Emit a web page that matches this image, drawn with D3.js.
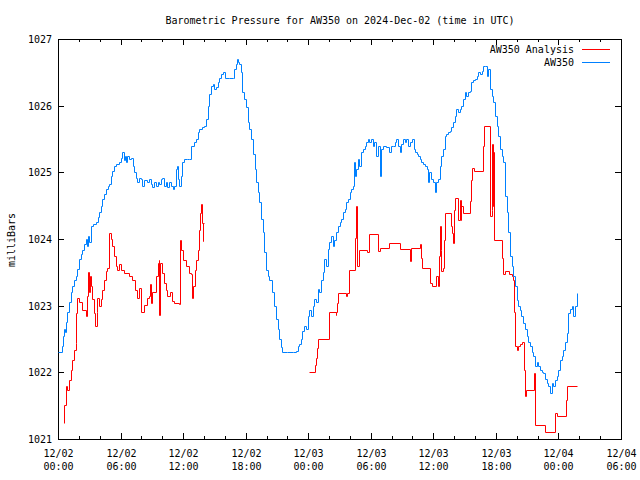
<!DOCTYPE html>
<html>
<head>
<meta charset="utf-8">
<script src="https://cdn.jsdelivr.net/npm/d3@7"></script>
<style>
  html, body { margin: 0; padding: 0; background: #fff; }
  svg { display: block; }
  text { font-family: "DejaVu Sans Mono", "Liberation Mono", monospace; font-size: 10px; fill: #000; }
</style>
</head>
<body>
<svg id="chart" width="640" height="480"></svg>
<script>
// ---- data (hours since 2024-12-02 00:00 UTC, pressure in mb) ----
const chartTitle = "Barometric Pressure for AW350 on 2024-Dec-02 (time in UTC)";
const yLabel = "milliBars";
const seriesNames = ["AW350 Analysis", "AW350"];
const yTicks = [1021, 1022, 1023, 1024, 1025, 1026, 1027];
const xMajorHours = [0, 6, 12, 18, 24, 30, 36, 42, 48, 54];
const xMinorHours = [2, 4, 8, 10, 14, 16, 20, 22, 26, 28, 32, 34, 38, 40, 44, 46, 50, 52];
const xTickLabels = [["12/02","00:00"],["12/02","06:00"],["12/02","12:00"],["12/02","18:00"],
                     ["12/03","00:00"],["12/03","06:00"],["12/03","12:00"],["12/03","18:00"],
                     ["12/04","00:00"],["12/04","06:00"]];

const blueHours = [0.00,0.38,0.50,0.58,0.70,0.77,0.90,1.06,1.20,1.32,1.50,1.70,1.85,2.02,2.20,2.33,2.50,2.66,2.79,2.85,2.98,
 3.14,3.40,3.62,3.80,3.94,4.10,4.23,4.40,4.58,4.75,4.90,5.06,5.20,5.38,5.60,5.86,6.00,6.18,6.30,6.40,6.53,6.65,6.82,
 7.00,7.15,7.30,7.45,7.62,7.80,7.95,8.10,8.26,8.50,8.74,8.90,9.03,9.20,9.39,9.55,9.71,9.85,9.99,10.15,10.35,10.50,
 10.67,10.85,11.00,11.15,11.31,11.40,11.50,11.63,11.75,11.92,12.11,12.40,12.60,12.75,13.00,13.23,13.40,13.55,13.80,
 14.03,14.19,14.35,14.51,14.70,14.83,15.00,15.15,15.30,15.47,15.60,15.79,16.05,16.40,16.75,16.91,17.05,17.13,17.25,
 17.39,17.56,17.65,17.85,18.04,18.19,18.35,18.52,18.67,18.85,19.00,19.15,19.31,19.48,19.63,19.79,19.96,20.10,20.27,
 20.50,20.76,20.95,21.10,21.24,21.40,21.52,22.00,22.50,22.87,23.00,23.16,23.30,23.45,23.64,23.80,23.95,24.12,24.30,
 24.45,24.60,24.75,24.90,25.05,25.24,25.40,25.56,25.70,25.85,26.04,26.20,26.35,26.52,26.70,26.84,27.00,27.16,27.30,
 27.48,27.65,27.80,27.96,28.10,28.28,28.35,28.50,28.61,28.76,28.90,29.09,29.25,29.40,29.55,29.72,29.85,30.00,30.20,
 30.35,30.53,30.68,30.84,31.01,31.20,31.49,31.70,31.90,32.12,32.30,32.45,32.60,32.77,32.90,33.08,33.25,33.41,33.55,
 33.73,33.99,34.10,34.21,34.40,34.52,34.70,34.85,35.00,35.17,35.35,35.49,35.58,35.75,35.97,36.13,36.30,36.45,36.61,
 36.77,36.93,37.09,37.25,37.41,37.57,37.73,37.90,38.05,38.21,38.40,38.55,38.70,38.85,39.01,39.18,39.35,39.49,39.66,
 39.80,39.97,40.15,40.29,40.45,40.62,40.77,40.93,41.10,41.25,41.41,41.58,41.73,41.89,42.06,42.21,42.38,42.55,42.69,
 42.86,43.02,43.17,43.34,43.50,43.65,43.82,43.98,44.15,44.30,44.45,44.62,44.78,44.94,45.10,45.26,45.42,45.58,45.74,
 45.90,46.06,46.22,46.38,46.54,46.70,46.86,47.02,47.18,47.34,47.50,47.66,47.82,47.98,48.14,48.30,48.46,48.62,48.79,
 48.95,49.10,49.27,49.43,49.58,49.75,49.80];
const bluePressure = [1022.30,1022.40,1022.55,1022.65,1022.60,1022.75,1022.90,1023.05,1023.20,1023.30,1023.38,1023.44,1023.55,1023.70,1023.78,1023.84,1023.92,1024.00,1023.90,1024.05,1023.95,
 1024.19,1024.22,1024.25,1024.33,1024.40,1024.50,1024.60,1024.68,1024.75,1024.80,1024.82,1024.94,1025.02,1025.10,1025.12,1025.15,1025.22,1025.30,1025.18,1025.25,1025.15,1025.25,1025.20,
 1025.22,1025.10,1025.00,1024.92,1024.85,1024.92,1024.90,1024.80,1024.88,1024.85,1024.90,1024.82,1024.78,1024.85,1024.80,1024.85,1024.83,1024.90,1024.92,1024.80,1024.85,1024.78,
 1024.85,1024.80,1024.75,1024.80,1025.05,1025.10,1024.90,1024.80,1024.95,1025.15,1025.20,1025.20,1025.20,1025.40,1025.45,1025.50,1025.60,1025.65,1025.68,
 1025.70,1025.80,1026.00,1026.17,1026.30,1026.32,1026.25,1026.28,1026.35,1026.42,1026.48,1026.50,1026.41,1026.41,1026.41,1026.55,1026.62,1026.70,1026.65,
 1026.62,1026.50,1026.20,1026.10,1025.98,1025.75,1025.65,1025.50,1025.28,1025.05,1024.85,1024.70,1024.55,1024.30,1024.10,1023.80,1023.54,1023.45,1023.39,
 1023.20,1023.00,1022.80,1022.65,1022.50,1022.38,1022.30,1022.30,1022.30,1022.32,1022.40,1022.42,1022.50,1022.62,1022.70,1022.65,1022.85,1022.94,1022.85,
 1023.00,1023.10,1023.05,1023.25,1023.20,1023.39,1023.50,1023.70,1023.60,1023.85,1023.95,1024.04,1023.90,1023.98,1024.10,1024.20,1024.25,1024.30,1024.40,
 1024.45,1024.55,1024.60,1024.70,1024.75,1024.80,1025.15,1024.95,1025.05,1025.20,1025.10,1025.30,1025.35,1025.40,1025.45,1025.50,1025.45,1025.50,1025.40,
 1025.45,1025.25,1025.40,1024.95,1025.35,1025.40,1025.38,1025.30,1025.40,1025.40,1025.45,1025.50,1025.40,1025.30,1025.42,1025.50,1025.45,1025.50,1025.40,
 1025.45,1025.50,1025.35,1025.30,1025.28,1025.25,1025.20,1025.15,1025.12,1025.10,1025.05,1024.85,1025.00,1024.90,1024.85,1024.70,1024.85,1024.90,1025.10,
 1025.25,1025.35,1025.55,1025.58,1025.60,1025.62,1025.68,1025.75,1025.85,1025.95,1025.90,1025.95,1026.00,1026.10,1026.20,1026.15,1026.20,1026.22,1026.35,
 1026.38,1026.40,1026.45,1026.50,1026.48,1026.52,1026.60,1026.60,1026.45,1026.55,1026.25,1026.15,1026.05,1025.85,1025.70,1025.55,1025.35,1025.25,1025.15,
 1024.64,1024.40,1024.10,1023.74,1023.60,1023.44,1023.30,1023.09,1023.00,1022.94,1022.85,1022.74,1022.65,1022.54,1022.45,1022.39,1022.30,1022.24,1022.09,
 1022.15,1022.10,1022.04,1022.00,1021.99,1021.90,1021.84,1021.80,1021.69,1021.84,1021.80,1021.89,1021.95,1022.04,1022.19,1022.25,1022.34,1022.45,1022.59,
 1022.89,1022.95,1022.99,1022.85,1022.99,1023.19,1023.19];

const redHours = [0.58,0.62,0.75,0.90,1.06,1.22,1.38,1.54,1.70,1.76,1.86,2.02,2.33,2.66,2.82,2.91,2.98,3.05,3.14,3.30,3.46,3.56,
 3.70,3.78,3.94,4.10,4.26,4.42,4.58,4.74,4.90,5.06,5.22,5.38,5.54,5.70,5.86,6.02,6.34,6.82,7.14,7.40,7.62,7.78,7.95,
 8.26,8.58,8.74,8.84,8.90,9.06,9.39,9.55,9.64,9.71,9.80,10.02,10.18,10.35,10.50,10.76,10.92,11.15,11.62,11.69,11.78,
 11.95,12.27,12.59,12.75,12.84,12.97,13.14,13.23,13.39,13.55,13.64,13.71,13.77,13.87,13.94,14.00,
 18.00,
 24.05,24.67,24.76,24.85,24.92,25.97,26.62,26.70,26.78,26.84,27.64,27.72,27.89,28.53,28.61,28.70,28.86,29.66,29.81,
 30.68,30.84,31.74,32.77,33.79,33.89,34.69,34.85,34.95,35.72,35.91,36.29,36.45,36.54,36.61,36.71,36.77,36.93,37.00,
 37.09,37.67,37.79,37.89,38.00,38.05,38.37,38.53,38.63,38.70,38.85,39.56,39.66,39.75,39.88,40.77,40.84,41.41,41.58,
 41.66,41.73,41.80,41.86,42.63,42.69,42.86,43.27,43.50,43.65,43.72,43.82,43.98,44.14,44.30,44.46,44.68,44.78,44.88,
 45.61,45.71,46.73,47.66,47.82,48.72,48.79,49.75];
const redPressure = [1021.24,1021.51,1021.79,1021.74,1021.89,1022.04,1022.19,1022.34,1022.44,1022.89,1023.12,1023.05,1022.94,1022.84,1023.14,1023.50,1023.20,1023.45,1023.29,1023.10,1022.89,1022.69,
 1022.90,1023.12,1023.00,1023.10,1023.24,1023.39,1023.52,1023.57,1024.09,1024.00,1023.89,1023.74,1023.60,1023.54,1023.62,1023.54,1023.49,1023.44,1023.39,1023.24,1023.12,1023.27,1022.91,
 1023.01,1023.12,1023.14,1023.32,1023.04,1023.20,1023.44,1023.64,1023.69,1022.86,1023.64,1023.49,1023.34,1023.24,1023.14,1023.20,1023.07,1023.04,1023.03,1023.99,1023.84,
 1023.69,1023.59,1023.49,1023.47,1023.12,1023.30,1023.54,1023.69,1023.84,1024.14,1024.39,1024.52,1024.24,1023.97,1024.24,1024.24,
 null,
 1022.00,1022.11,1022.21,1022.36,1022.50,1022.90,1022.86,1022.90,1023.04,1023.19,1023.15,1023.19,1023.54,1024.02,1024.49,1023.59,1023.84,1023.80,1024.07,
 1023.82,1023.87,1023.94,1023.85,1023.67,1023.87,1023.93,1023.72,1023.57,1023.34,1023.29,1023.44,1023.29,1023.74,1024.19,1023.84,1023.52,1023.57,1023.99,
 1024.39,1024.19,1024.09,1023.94,1024.44,1024.62,1024.29,1024.59,1024.29,1024.49,1024.39,1024.57,1024.89,1025.07,1025.02,1025.40,1025.69,1024.35,1024.44,
 1025.42,1024.50,1025.30,1023.99,1023.72,1023.47,1023.52,1023.47,1023.44,1023.39,1022.91,1022.39,1022.34,1022.39,1022.42,1022.46,1022.04,1021.64,1021.74,
 1021.99,1021.21,1021.10,1021.39,1021.35,1021.59,1021.80,1021.80];

// ---- chart ----
const START = Date.UTC(2024, 11, 2, 0, 0);
const toDate = h => new Date(START + h * 3600e3);

const svg = d3.select("#chart");
const x = d3.scaleUtc().domain([toDate(0), toDate(54)]).rangeRound([58, 621]);
const y = d3.scaleLinear().domain([1021, 1027]).rangeRound([439, 39]);

const RED = "#ff0000", BLUE = "#0080ff";

// title
svg.append("text").attr("x", 340).attr("y", 24).attr("text-anchor", "middle").text(chartTitle);
// y label
svg.append("text").attr("transform", "translate(15,240) rotate(-90)").attr("text-anchor", "middle").text(yLabel);

// border
svg.append("rect").attr("x", 58.5).attr("y", 39.5).attr("width", 563).attr("height", 400)
  .attr("fill", "none").attr("stroke", "#000").attr("stroke-width", 1).attr("shape-rendering", "crispEdges");

function styleAxis(g) {
  g.select(".domain").remove();
  g.selectAll(".tick line").attr("stroke", "#000").attr("shape-rendering", "crispEdges");
}

// x axes bottom (major + minor), top mirrored
const majorDates = xMajorHours.map(toDate);
const minorDates = xMinorHours.map(toDate);
const gxb = svg.append("g").attr("transform", "translate(0,439)")
  .call(d3.axisBottom(x).tickValues(majorDates).tickSize(-6).tickFormat(""));
styleAxis(gxb);
gxb.selectAll(".tick text").remove();
gxb.selectAll(".tick").each(function(d, i) {
  const t = d3.select(this).append("text").attr("text-anchor", "middle").attr("fill", "#000")
    .attr("font-family", "DejaVu Sans Mono, monospace").attr("font-size", 10);
  t.append("tspan").attr("x", 0).attr("y", 18).text(xTickLabels[i][0]);
  t.append("tspan").attr("x", 0).attr("y", 31).text(xTickLabels[i][1]);
});
styleAxis(svg.append("g").attr("transform", "translate(0,439)")
  .call(d3.axisBottom(x).tickValues(minorDates).tickSize(-3).tickFormat("")));
styleAxis(svg.append("g").attr("transform", "translate(0,39)")
  .call(d3.axisTop(x).tickValues(majorDates).tickSize(-6).tickFormat("")));
styleAxis(svg.append("g").attr("transform", "translate(0,39)")
  .call(d3.axisTop(x).tickValues(minorDates).tickSize(-3).tickFormat("")));

// y axes left and right mirrored
const gyl = svg.append("g").attr("transform", "translate(58,0)")
  .call(d3.axisLeft(y).tickValues(yTicks).tickSize(-6).tickFormat(d3.format("d")));
styleAxis(gyl);
gyl.selectAll(".tick text").attr("x", -6).attr("dy", "0.36em").attr("fill", "#000")
  .attr("font-family", "DejaVu Sans Mono, monospace").attr("font-size", 10);
styleAxis(svg.append("g").attr("transform", "translate(621,0)")
  .call(d3.axisRight(y).tickValues(yTicks).tickSize(-6).tickFormat("")));

// series
const redData = redHours.map((h, i) => ({ t: toDate(h), v: redPressure[i] }));
const blueData = blueHours.map((h, i) => ({ t: toDate(h), v: bluePressure[i] }));
const line = d3.line().defined(d => d.v != null)
  .x(d => x(d.t)).y(d => y(d.v)).curve(d3.curveStepAfter);

const plot = svg.append("g").attr("transform", "translate(0.5,0.5)");
plot.append("path").datum(redData).attr("d", line).attr("fill", "none")
  .attr("stroke", RED).attr("stroke-width", 1);
plot.append("path").datum(blueData).attr("d", line).attr("fill", "none")
  .attr("stroke", BLUE).attr("stroke-width", 1);

// legend
const legend = svg.append("g");
[[seriesNames[0], RED, 49.5], [seriesNames[1], BLUE, 62.5]].forEach(([name, col, ly]) => {
  legend.append("text").attr("x", 574).attr("y", ly + 3.5).attr("text-anchor", "end").text(name);
  legend.append("line").attr("x1", 582).attr("x2", 610).attr("y1", ly).attr("y2", ly)
    .attr("stroke", col).attr("stroke-width", 1);
});
</script>
</body>
</html>
